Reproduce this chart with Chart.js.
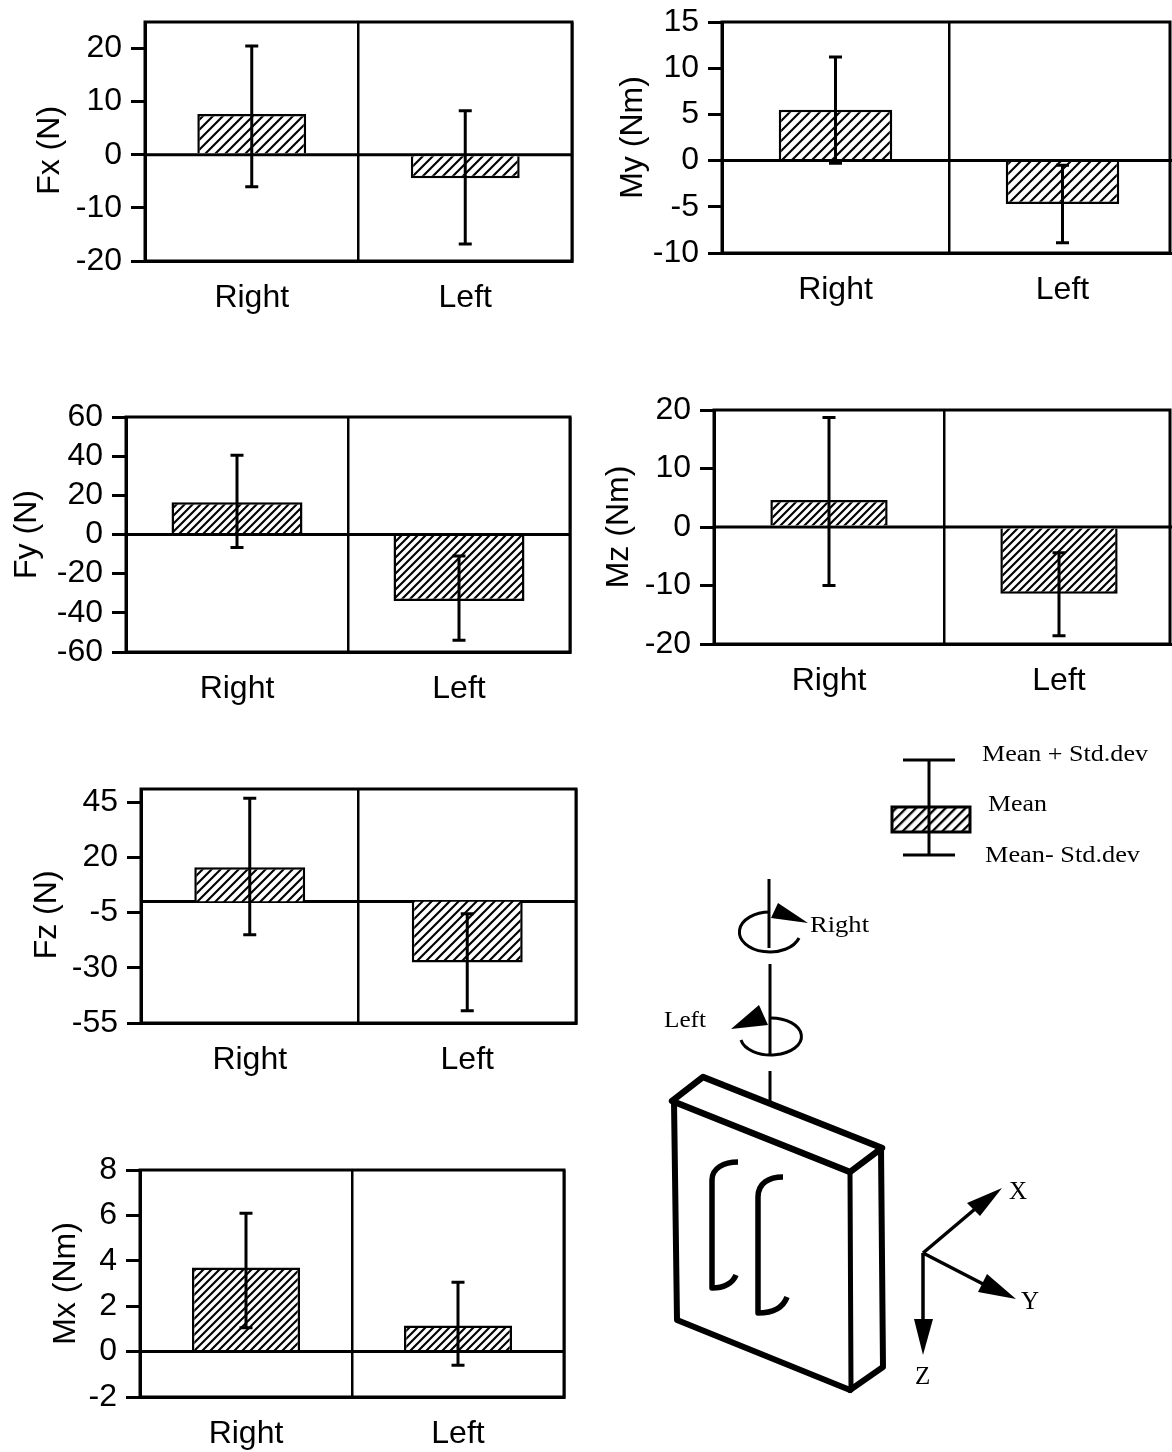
<!DOCTYPE html>
<html>
<head>
<meta charset="utf-8">
<title>Force and moment bar charts</title>
<script src="https://cdn.jsdelivr.net/npm/chart.js@4"></script>
<style>
  html, body { margin: 0; padding: 0; background: #fff; width: 1172px; height: 1452px; overflow: hidden; }
  canvas { position: absolute; display: block; }
  svg { position: absolute; left: 0; top: 0; }
  svg text { font-family: "Liberation Serif", serif; fill: #000; }
</style>
</head>
<body>
<div id="panels"></div>
<svg width="1172" height="1452" viewBox="0 0 1172 1452" xmlns="http://www.w3.org/2000/svg">
  <defs>
    <pattern id="hatch" width="7" height="7" patternUnits="userSpaceOnUse" patternTransform="rotate(45)">
      <rect width="7" height="7" fill="#fff"/><rect width="2.3" height="7" fill="#000"/>
    </pattern>
  </defs>
  <!-- legend key -->
  <g stroke="#000" fill="none">
    <rect x="892" y="807" width="78" height="25" fill="url(#hatch)" stroke-width="3"/>
    <path d="M903 760H955M903 855H955" stroke-width="3"/>
    <path d="M929 760V855" stroke-width="3"/>
  </g>
  <text x="982" y="761" font-size="24" textLength="166" lengthAdjust="spacingAndGlyphs">Mean + Std.dev</text>
  <text x="988" y="811" font-size="24" textLength="59" lengthAdjust="spacingAndGlyphs">Mean</text>
  <text x="985" y="862" font-size="24" textLength="155" lengthAdjust="spacingAndGlyphs">Mean- Std.dev</text>

  <!-- rotation axis -->
  <g stroke="#000" fill="none" stroke-width="3">
    <path d="M769 879V948M770 964V1056M770 1071V1104"/>
    <path d="M799 938A30.5 20 0 1 1 770 912"/>
    <path d="M741 1040A30.5 18.5 0 1 0 770 1018"/>
  </g>
  <path d="M771 918L778 903L808 923Z" fill="#000"/>
  <path d="M731 1029L759 1005L768 1025Z" fill="#000"/>
  <text x="810" y="932" font-size="24" textLength="59" lengthAdjust="spacingAndGlyphs">Right</text>
  <text x="664" y="1027" font-size="24" textLength="42" lengthAdjust="spacingAndGlyphs">Left</text>

  <!-- load cell block -->
  <g stroke="#000" fill="none" stroke-linejoin="round" stroke-linecap="round">
    <path d="M672 1101L703 1077L882 1148L850 1172Z" stroke-width="6.5"/>
    <path d="M674 1101L677 1320L850 1390" stroke-width="6"/>
    <path d="M850 1390L883 1367L881 1148" stroke-width="6"/>
    <path d="M850 1172L851 1390" stroke-width="5"/>
    <path d="M738 1162C724 1162 712 1168 712 1180V1288C724 1288 733 1283 736 1275" stroke-width="5.5" stroke-linecap="butt"/>
    <path d="M783 1177C769 1177 758 1183 758 1197V1313C772 1313 783 1308 787 1297" stroke-width="5.5" stroke-linecap="butt"/>
  </g>

  <!-- coordinate axes -->
  <g stroke="#000" fill="none" stroke-width="3.5">
    <path d="M923 1253L975 1209M923 1253L985 1285M923 1253V1322"/>
  </g>
  <path d="M1002 1188L967 1203L980 1216Z" fill="#000"/>
  <path d="M1016 1299L987 1274L978 1292Z" fill="#000"/>
  <path d="M923 1355L914 1319H933Z" fill="#000"/>
  <text x="1009" y="1199" font-size="25">X</text>
  <text x="1021" y="1309" font-size="25">Y</text>
  <text x="915" y="1384" font-size="25">Z</text>
</svg>

<script>
const categories = ['Right', 'Left'];

const fxMean  = [7.7, -4.4];
const fxUpper = [20.5, 8.3];
const fxLower = [-6, -16.8];
const fxTicks = [20, 10, 0, -10, -20];

const fyMean  = [16.5, -34];
const fyUpper = [40.5, -11];
const fyLower = [-6.6, -54];
const fyTicks = [60, 40, 20, 0, -20, -40, -60];

const fzMean  = [15.5, -27.6];
const fzUpper = [46.8, -5.5];
const fzLower = [-15, -49.5];
const fzTicks = [45, 20, -5, -30, -55];

const mxMean  = [3.7, 1.15];
const mxUpper = [6.1, 3.05];
const mxLower = [1.05, -0.6];
const mxTicks = [8, 6, 4, 2, 0, -2];

const myMean  = [5.5, -4.7];
const myUpper = [11.2, -0.5];
const myLower = [-0.3, -8.9];
const myTicks = [15, 10, 5, 0, -5, -10];

const mzMean  = [4.6, -11.4];
const mzUpper = [18.7, -4.4];
const mzLower = [-10, -18.6];
const mzTicks = [20, 10, 0, -10, -20];

const FONT = '"Liberation Sans", Arial, sans-serif';
const INK = '#000';
const TOP_ROOM = 24;
const BOTTOM_ROOM = 66;

function hatchPattern(p) {
  const t = document.createElement('canvas');
  t.width = p; t.height = p;
  const c = t.getContext('2d');
  c.fillStyle = '#fff'; c.fillRect(0, 0, p, p);
  c.strokeStyle = '#000'; c.lineWidth = 2.1;
  [[-2, 2, 2, -2], [-2, p + 2, p + 2, -2], [p - 2, p + 2, p + 2, p - 2]].forEach(s => {
    c.beginPath(); c.moveTo(s[0], s[1]); c.lineTo(s[2], s[3]); c.stroke();
  });
  return document.createElement('canvas').getContext('2d').createPattern(t, 'repeat');
}

const frameAndWhiskers = {
  id: 'frameAndWhiskers',
  beforeDatasetsDraw(chart) {
    const { ctx, scales: { y }, chartArea: a } = chart;
    const zero = y.getPixelForValue(0);
    ctx.save();
    ctx.strokeStyle = INK;
    ctx.lineWidth = 3;
    ctx.beginPath(); ctx.moveTo(a.left, zero); ctx.lineTo(a.right, zero); ctx.stroke();
    ctx.restore();
  },
  afterDatasetsDraw(chart, args, opts) {
    const { ctx, scales: { x, y }, chartArea: a } = chart;
    ctx.save();
    ctx.strokeStyle = INK;
    ctx.lineWidth = 3;
    ctx.strokeRect(a.left, a.top, a.right - opts.frameInset - a.left, a.bottom - a.top);
    categories.forEach((c, i) => {
      const px = x.getPixelForValue(i);
      const top = y.getPixelForValue(opts.upper[i]);
      const bot = y.getPixelForValue(opts.lower[i]);
      ctx.beginPath();
      ctx.moveTo(px, top); ctx.lineTo(px, bot);
      ctx.moveTo(px - 6.5, top); ctx.lineTo(px + 6.5, top);
      ctx.moveTo(px - 6.5, bot); ctx.lineTo(px + 6.5, bot);
      ctx.stroke();
    });
    ctx.restore();
  }
};

function panel(cfg) {
  const cv = document.createElement('canvas');
  const gutter = cfg.left - cfg.canvasLeft;
  const w = gutter + (cfg.right - cfg.left) + 2;
  const h = (cfg.bottom - cfg.top) + TOP_ROOM + BOTTOM_ROOM;
  cv.width = w; cv.height = h;
  cv.style.left = cfg.canvasLeft + 'px';
  cv.style.top = (cfg.top - TOP_ROOM) + 'px';
  cv.style.width = w + 'px';
  cv.style.height = h + 'px';
  document.getElementById('panels').appendChild(cv);
  new Chart(cv, {
    type: 'bar',
    data: {
      labels: categories,
      datasets: [{
        label: cfg.title.trim(),
        data: cfg.mean,
        backgroundColor: hatchPattern(cfg.hatch),
        borderColor: INK,
        borderWidth: 2.5,
        borderSkipped: 'start',
        barPercentage: cfg.barShare,
        categoryPercentage: 1
      }]
    },
    options: {
      responsive: false,
      animation: false,
      layout: { padding: { top: TOP_ROOM, right: 2, left: 0, bottom: 0 } },
      plugins: {
        legend: { display: false },
        tooltip: { enabled: false },
        frameAndWhiskers: { upper: cfg.upper, lower: cfg.lower, frameInset: cfg.frameInset || 0 }
      },
      scales: {
        x: {
          afterFit(s) { s.height = BOTTOM_ROOM; s.paddingLeft = 0; s.paddingRight = 0; },
          border: { color: INK, width: 3 },
          grid: {
            offset: true,
            color: c => (c.index === 2 && cfg.frameInset ? 'rgba(0,0,0,0)' : INK),
            lineWidth: 2.5,
            drawTicks: false
          },
          ticks: {
            color: INK, padding: 18, maxRotation: 0,
            font: { family: FONT, size: 32 }
          }
        },
        y: {
          min: cfg.min,
          max: cfg.max,
          afterFit(s) { s.width = gutter; s.paddingTop = 0; s.paddingBottom = 0; },
          afterBuildTicks(s) { s.ticks = cfg.ticks.map(v => ({ value: v })); },
          border: { color: INK, width: 3 },
          grid: {
            color: 'rgba(0,0,0,0)',
            lineWidth: 3,
            tickColor: INK,
            tickLength: 14
          },
          ticks: {
            color: INK, padding: 9, autoSkip: false,
            font: { family: FONT, size: 32 },
            callback: v => String(v)
          },
          title: {
            display: true,
            text: cfg.title,
            color: INK,
            padding: 0,
            font: { family: FONT, size: 32 }
          }
        }
      }
    },
    plugins: [frameAndWhiskers]
  });
}

panel({ title: 'Fx (N)  ',  mean: fxMean, upper: fxUpper, lower: fxLower, ticks: fxTicks, min: -20, max: 25,
        canvasLeft: 31, left: 145, right: 572, top: 22, bottom: 261, barShare: 0.51, hatch: 10 });
panel({ title: 'My (Nm)', mean: myMean, upper: myUpper, lower: myLower, ticks: myTicks, min: -10, max: 15,
        canvasLeft: 614, left: 722, right: 1176, frameInset: 6, top: 22, bottom: 253, barShare: 0.5, hatch: 10 });
panel({ title: 'Fy (N)',  mean: fyMean, upper: fyUpper, lower: fyLower, ticks: fyTicks, min: -60, max: 60,
        canvasLeft: 8, left: 126, right: 570, top: 417, bottom: 652, barShare: 0.59, hatch: 8 });
panel({ title: 'Mz (Nm)', mean: mzMean, upper: mzUpper, lower: mzLower, ticks: mzTicks, min: -20, max: 20,
        canvasLeft: 600, left: 714, right: 1174, frameInset: 4, top: 410, bottom: 644, barShare: 0.51, hatch: 8 });
panel({ title: 'Fz (N)  ',  mean: fzMean, upper: fzUpper, lower: fzLower, ticks: fzTicks, min: -55, max: 51,
        canvasLeft: 28, left: 141, right: 576, top: 789, bottom: 1023, barShare: 0.51, hatch: 9 });
panel({ title: 'Mx (Nm)', mean: mxMean, upper: mxUpper, lower: mxLower, ticks: mxTicks, min: -2, max: 8,
        canvasLeft: 47, left: 140, right: 564, top: 1170, bottom: 1397, barShare: 0.51, hatch: 8 });
</script>
</body>
</html>
